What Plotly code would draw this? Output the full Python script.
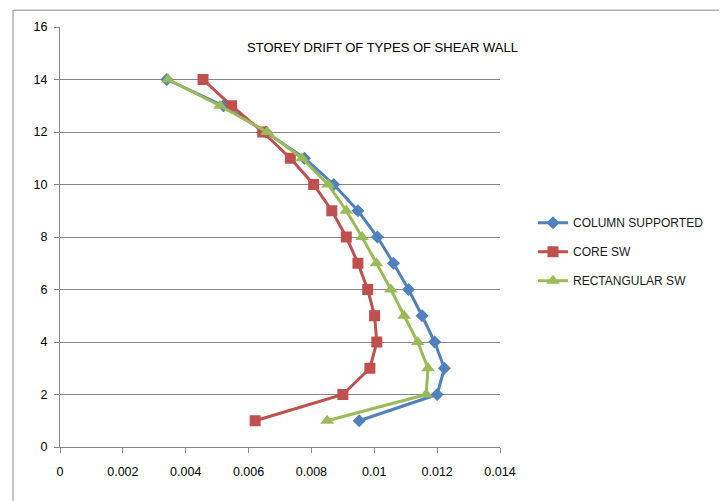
import plotly.graph_objects as go

storey = [14, 13, 12, 11, 10, 9, 8, 7, 6, 5, 4, 3, 2, 1]
column_supported = [0.0034, 0.0052, 0.00655, 0.00778, 0.00871, 0.00948, 0.0101, 0.01061,
                    0.01109, 0.01152, 0.01192, 0.01223, 0.0120, 0.00952]
core_sw = [0.00455, 0.00546, 0.00645, 0.00733, 0.00807, 0.00865, 0.00911, 0.00948,
           0.00979, 0.01001, 0.01008, 0.00986, 0.0090, 0.00621]
rectangular_sw = [0.00344, 0.00509, 0.00659, 0.0077, 0.00853, 0.00911, 0.00961, 0.01007,
                  0.01053, 0.01095, 0.01138, 0.01171, 0.01165, 0.0085]

x_ticks = [0, 0.002, 0.004, 0.006, 0.008, 0.01, 0.012, 0.014]
x_tick_labels = ["0", "0.002", "0.004", "0.006", "0.008", "0.01", "0.012", "0.014"]
y_ticks = [0, 2, 4, 6, 8, 10, 12, 14, 16]

FONT = "Liberation Sans Narrow, Arial Narrow, Liberation Sans, Arial, sans-serif"

fig = go.Figure()
fig.add_trace(go.Scatter(x=column_supported, y=storey, name="COLUMN SUPPORTED",
                         mode="lines+markers", legendgroup="a",
                         line=dict(color="#4F81BD", width=3),
                         marker=dict(symbol="diamond", size=10, color="#4F81BD")))
fig.add_trace(go.Scatter(x=core_sw, y=storey, name="CORE SW",
                         mode="lines+markers", legendgroup="b",
                         line=dict(color="#C0504D", width=3),
                         marker=dict(symbol="square", size=11, color="#C0504D")))
fig.add_trace(go.Scatter(x=rectangular_sw, y=storey, name="RECTANGULAR SW",
                         mode="lines+markers", legendgroup="c",
                         line=dict(color="#9BBB59", width=3),
                         marker=dict(symbol="triangle-up", size=12, color="#9BBB59")))

fig.update_layout(
    width=727, height=501,
    margin=dict(l=52, r=235, t=12, b=62),
    paper_bgcolor="white", plot_bgcolor="white",
    font=dict(family=FONT, size=12, color="#000000"),
    showlegend=True,
    legend=dict(x=1.075, y=0.465, xanchor="left", yanchor="middle",
                font=dict(family=FONT, size=12, color="#1a1a1a"),
                tracegroupgap=10, itemwidth=30, bgcolor="rgba(0,0,0,0)"),
    xaxis=dict(range=[0, 0.014], tickvals=x_ticks, ticktext=x_tick_labels,
               showgrid=False, zeroline=False, showline=True, linecolor="#868686",
               linewidth=1, ticks="outside", ticklen=5, tickcolor="#868686",
               tickfont=dict(family=FONT, size=12.5), ticklabelstandoff=8),
    yaxis=dict(range=[0, 16], tickvals=y_ticks, showgrid=True, gridcolor="#868686",
               gridwidth=1, zeroline=False, showline=True, linecolor="#868686",
               linewidth=1, ticks="outside", ticklen=5, tickcolor="#868686",
               tickfont=dict(family=FONT, size=12.5), ticklabelstandoff=4),
    annotations=[dict(text="STOREY DRIFT OF TYPES OF SHEAR WALL", x=0.42, y=0.952,
                      xref="paper", yref="paper", xanchor="left", yanchor="middle",
                      showarrow=False, font=dict(family=FONT, size=13, color="#000000"))],
    shapes=[dict(type="line", xref="paper", yref="paper", x0=-0.1068, x1=-0.1068,
                 y0=-0.2, y1=1.04, line=dict(color="#8c8c8c", width=1)),
            dict(type="line", xref="paper", yref="paper", x0=-0.1068, x1=1.502,
                 y0=1.04, y1=1.04, line=dict(color="#8c8c8c", width=1)),
            dict(type="line", xref="paper", yref="paper", x0=1.502, x1=1.502,
                 y0=-0.2, y1=1.04, line=dict(color="#bfbfbf", width=1))],
)

fig.write_html("out.html")
